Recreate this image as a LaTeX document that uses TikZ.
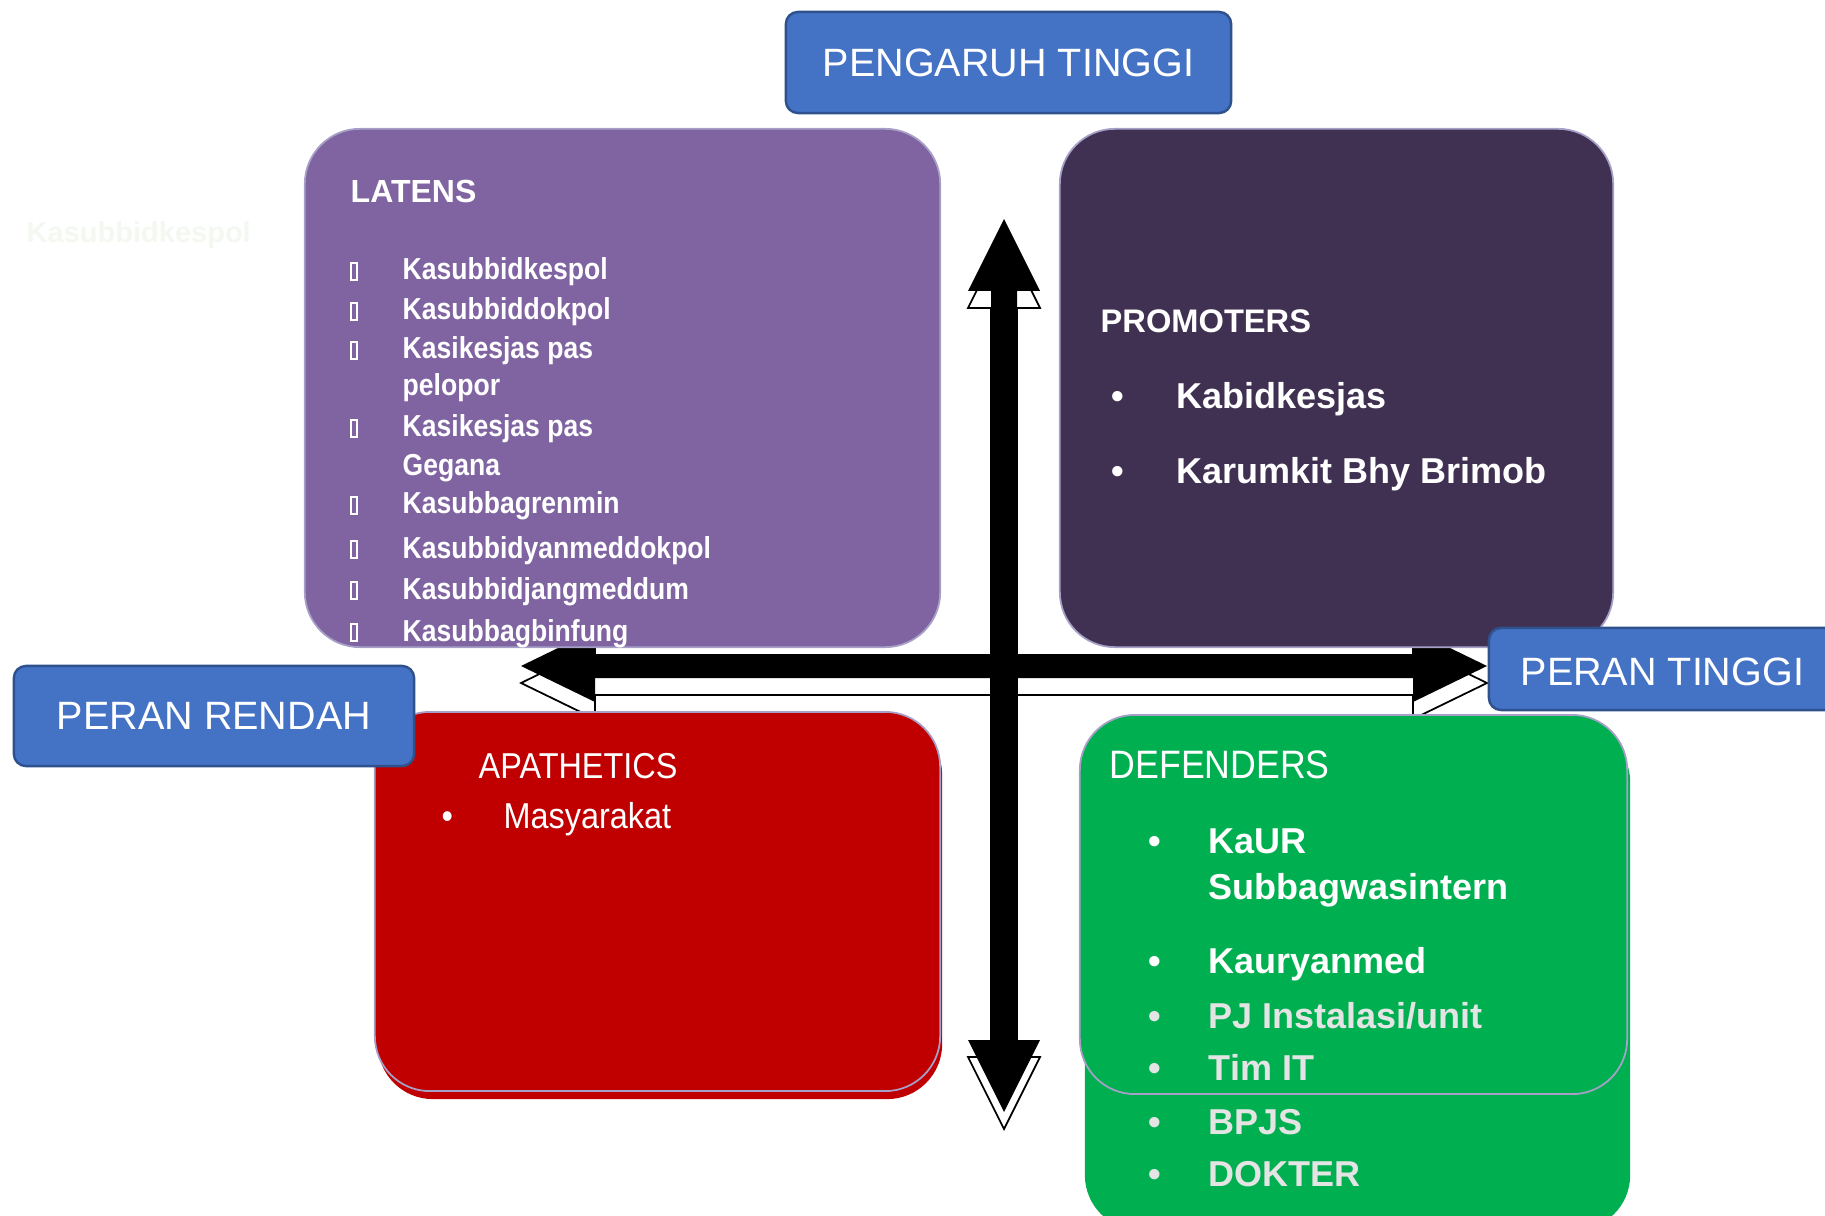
\documentclass[tikz,border=0pt]{standalone}
\usepackage{fontspec}
\setmainfont{Liberation Sans}
\newfontfamily\narrowfont[FakeStretch=0.876]{Liberation Sans}
\newfontfamily\thinfont[FakeStretch=0.9]{Liberation Sans}
\usetikzlibrary{calc}
\definecolor{bluefill}{HTML}{4472C4}
\definecolor{blueedge}{HTML}{2F528F}
\definecolor{latfill}{HTML}{8064A2}
\definecolor{promfill}{HTML}{403152}
\definecolor{apafill}{HTML}{C00000}
\definecolor{deffill}{HTML}{00B050}
\definecolor{lavedge}{HTML}{A6A0C8}
\definecolor{faint}{HTML}{F3F8F1}
\definecolor{greytext}{HTML}{E4E4E4}
\begin{document}
\begin{tikzpicture}[x=0.01cm,y=-0.01cm,
  bluebox/.style={draw=blueedge,fill=bluefill,line width=0.7pt,rounded corners=0.12cm,inner sep=0pt,text=white,font=\fontsize{11.24pt}{13pt}\selectfont},
  quad/.style={rounded corners=0.55cm,inner sep=0pt},
  edged/.style={draw=lavedge,line width=0.5pt},
  txt/.style={inner sep=0pt,anchor=base west,text=white},
  latitem/.style={txt,font=\narrowfont\bfseries\fontsize{8.62pt}{10pt}\selectfont},
  promitem/.style={txt,font=\bfseries\fontsize{10.24pt}{12pt}\selectfont},
  defitem/.style={txt,font=\bfseries\fontsize{10.24pt}{12pt}\selectfont},
  thintxt/.style={txt,font=\thinfont\fontsize{10.24pt}{12pt}\selectfont},
  shadowarrow/.style={fill=white,draw=black,line width=0.5pt},
  solidarrow/.style={fill=black},
]
\clip (0,0) rectangle (1825,1216);
\fill[white] (0,0) rectangle (1825,1216);

% ---- arrows (3D look: white outlined copy below) ----
\begin{scope}[shift={(0,17)}]
  \path[shadowarrow] (521,666) -- (595,630) -- (595,654) -- (1413,654) -- (1413,630) -- (1487,666)
     -- (1413,702) -- (1413,678) -- (595,678) -- (595,702) -- cycle;
  \path[shadowarrow] (1004,219) -- (1040,291) -- (1017,291) -- (1017,1040) -- (1040,1040) -- (1004,1112)
     -- (968,1040) -- (991,1040) -- (991,291) -- (968,291) -- cycle;
\end{scope}
\path[solidarrow] (521,666) -- (595,630) -- (595,654) -- (1413,654) -- (1413,630) -- (1487,666)
   -- (1413,702) -- (1413,678) -- (595,678) -- (595,702) -- cycle;
\path[solidarrow] (1004,219) -- (1040,291) -- (1017,291) -- (1017,1040) -- (1040,1040) -- (1004,1112)
   -- (968,1040) -- (991,1040) -- (991,291) -- (968,291) -- cycle;

% ---- quadrant boxes ----
\node[quad,edged,fill=latfill,minimum width=6.35cm,minimum height=5.18cm] (lat) at (622.5,388) {};
\node[quad,edged,fill=promfill,minimum width=5.53cm,minimum height=5.18cm] (prom) at (1336.5,388) {};
\node[quad,fill=apafill,minimum width=5.64cm,minimum height=3.79cm] (apaback) at (660,909.5) {};
\node[quad,edged,fill=apafill,minimum width=5.65cm,minimum height=3.79cm] (apa) at (657.5,901.5) {};
\node[quad,fill=deffill,minimum width=5.45cm,minimum height=5.03cm] (defback) at (1357.5,978.5) {};
\node[quad,edged,fill=deffill,minimum width=5.47cm,minimum height=3.79cm] (def) at (1353.5,904.5) {};

% ---- blue labels ----
\node[bluebox,minimum width=4.45cm,minimum height=1.01cm] (pengaruh) at (1008.5,62.5) {PENGARUH TINGGI};
\node[bluebox,minimum width=4.00cm,minimum height=1.00cm] (rendah) at (214,716) {PERAN RENDAH};
\node[bluebox,minimum width=3.80cm,minimum height=0.82cm] (tinggibox) at (1679,669) {};
\node[txt,font=\fontsize{11.24pt}{13pt}\selectfont,anchor=west] (tinggi) at (1520,672) {PERAN TINGGI};

% ---- faint text ----
\node[txt,text=faint,font=\bfseries\fontsize{8.25pt}{10pt}\selectfont] (ghost) at (26,243) {Kasubbidkespol};

% ---- LATENS ----
\node[txt,font=\bfseries\fontsize{9.1pt}{11pt}\selectfont] (latt) at (350,203) {LATENS};
\foreach \b in {280,320,359,437,514,558,599,641}
  \draw[white,line width=0.45pt] (351,\b-17) rectangle (357,\b);
\node[latitem] (l1) at (402,280) {Kasubbidkespol};
\node[latitem] (l2) at (402,320) {Kasubbiddokpol};
\node[latitem] (l3) at (402,359) {Kasikesjas pas};
\node[latitem] (l3b) at (402,396) {pelopor};
\node[latitem] (l4) at (402,437) {Kasikesjas pas};
\node[latitem] (l4b) at (402,476) {Gegana};
\node[latitem] (l5) at (402,514) {Kasubbagrenmin};
\node[latitem] (l6) at (402,558) {Kasubbidyanmeddokpol};
\node[latitem] (l7) at (402,599) {Kasubbidjangmeddum};
\node[latitem] (l8) at (402,641) {Kasubbagbinfung};

% ---- PROMOTERS ----
\node[txt,font=\bfseries\fontsize{9.28pt}{11pt}\selectfont] (promt) at (1100,333) {PROMOTERS};
\node[promitem] (pb1) at (1111,409) {•};
\node[promitem] (p1) at (1176,409) {Kabidkesjas};
\node[promitem] (pb2) at (1111,484) {•};
\node[promitem] (p2) at (1176,484) {Karumkit Bhy Brimob};

% ---- APATHETICS ----
\node[thintxt] (apat) at (478,778) {APATHETICS};
\node[thintxt] (ab1) at (441,828) {•};
\node[thintxt] (a1) at (503,828) {Masyarakat};

% ---- DEFENDERS ----
\node[txt,font=\thinfont\fontsize{11.27pt}{13pt}\selectfont] (deft) at (1109,778) {DEFENDERS};
\foreach \b/\c in {853/white,973/white,1028/greytext,1080/greytext,1134/greytext,1186/greytext}
  \node[defitem,text=\c] at (1148,\b) {•};
\node[defitem] (d1) at (1208,853) {KaUR};
\node[defitem] (d1b) at (1208,899) {Subbagwasintern};
\node[defitem] (d2) at (1208,973) {Kauryanmed};
\node[defitem,text=greytext] (d3) at (1208,1028) {PJ Instalasi/unit};
\node[defitem,text=greytext] (d4) at (1208,1080) {Tim IT};
\node[defitem,text=greytext] (d5) at (1208,1134) {BPJS};
\node[defitem,text=greytext] (d6) at (1208,1186) {DOKTER};
\end{tikzpicture}
\end{document}
